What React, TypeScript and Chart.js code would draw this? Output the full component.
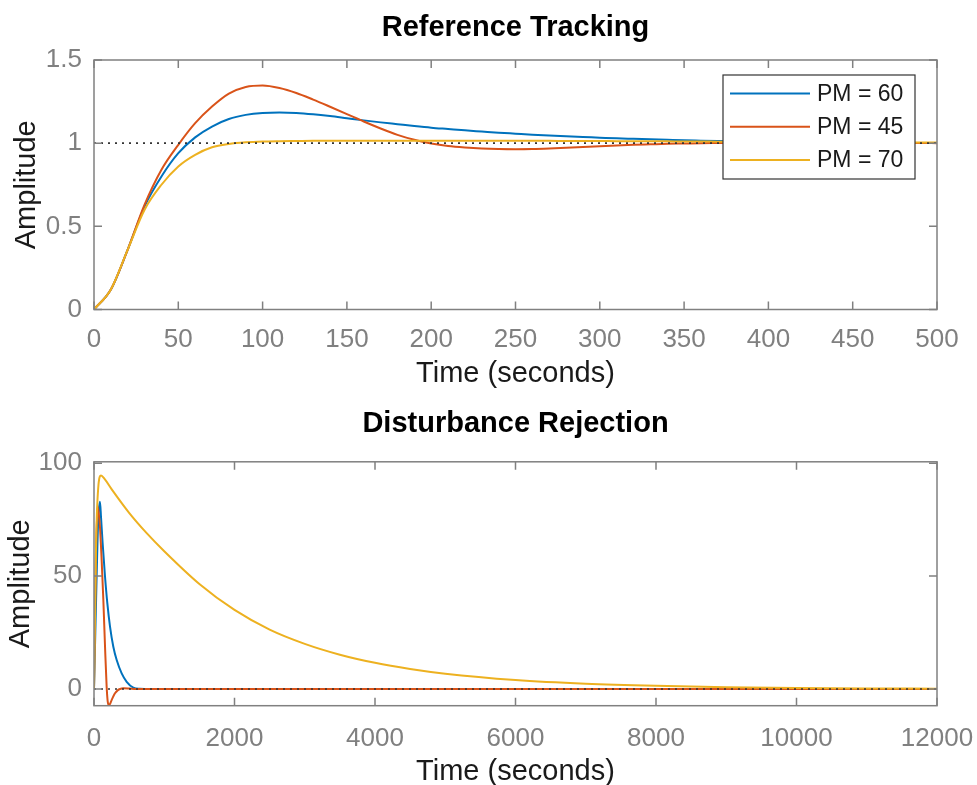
import React, { useEffect, useRef } from "react";
import { Chart, registerables } from "chart.js";

Chart.register(...registerables);

// ---------- Data: Reference Tracking ----------
const refTime = [
  0, 10, 20, 30, 40, 50, 60, 70, 80, 90, 100, 110, 120, 130, 140, 150, 160, 170, 180, 190,
  200, 210, 220, 230, 240, 250, 260, 270, 280, 290, 300, 310, 320, 330, 340, 350, 360, 370,
  380, 390, 400, 410, 420, 430, 440, 450, 460, 470, 480, 490, 500,
];
const refPM60 = [
  0, 0.12, 0.36, 0.62, 0.8, 0.94, 1.035, 1.1, 1.145, 1.17, 1.182, 1.185, 1.182, 1.174, 1.163,
  1.15, 1.137, 1.125, 1.114, 1.103, 1.093, 1.085, 1.077, 1.07, 1.063, 1.057, 1.051, 1.046,
  1.041, 1.037, 1.033, 1.029, 1.026, 1.023, 1.02, 1.017, 1.015, 1.013, 1.011, 1.009, 1.008,
  1.007, 1.006, 1.005, 1.004, 1.003, 1.003, 1.002, 1.002, 1.001, 1.001,
];
const refPM45 = [
  0, 0.12, 0.36, 0.63, 0.84, 0.99, 1.12, 1.22, 1.298, 1.338, 1.347, 1.332, 1.302, 1.262, 1.219,
  1.175, 1.13, 1.088, 1.05, 1.02, 0.998, 0.983, 0.974, 0.968, 0.965, 0.964, 0.965, 0.968,
  0.972, 0.977, 0.982, 0.986, 0.99, 0.993, 0.996, 0.998, 1.0, 1.001, 1.002, 1.003, 1.003,
  1.003, 1.003, 1.003, 1.002, 1.002, 1.002, 1.001, 1.001, 1.001, 1.0,
];
const refPM70 = [
  0, 0.12, 0.36, 0.6, 0.75, 0.86, 0.93, 0.975, 0.995, 1.005, 1.01, 1.012, 1.013, 1.014, 1.014,
  1.014, 1.014, 1.014, 1.014, 1.014, 1.014, 1.014, 1.014, 1.014, 1.014, 1.014, 1.014, 1.014,
  1.013, 1.013, 1.013, 1.012, 1.012, 1.011, 1.011, 1.01, 1.01, 1.009, 1.009, 1.008, 1.008,
  1.007, 1.007, 1.006, 1.006, 1.006, 1.005, 1.005, 1.005, 1.004, 1.004,
];
const refLineTime = [0, 500];
const refLineValue = [1, 1];

// ---------- Data: Disturbance Rejection ----------
const distTimePM60 = [0, 30, 60, 85, 100, 123, 157, 190, 228, 275, 323, 394, 465, 560, 655, 800, 1000, 12000];
const distPM60 = [0, 40, 75, 82.9, 76, 64.5, 49.7, 37.9, 27.6, 18.7, 12.8, 6.9, 3.2, 0.6, 0.1, 0, 0, 0];
const distTimePM45 = [0, 25, 50, 70, 85, 109, 133, 157, 180, 195, 210, 230, 251, 299, 340, 370, 418, 500, 600, 12000];
const distPM45 = [0, 55, 81, 77, 71.8, 57, 39.4, 18.7, 1.0, -5.5, -7.3, -6.5, -4.9, -1.9, -0.5, 0, 0.3, 0.2, 0, 0];
const distTimePM70 = [
  0, 30, 60, 100, 150, 250, 500, 750, 1000, 1500, 2000, 2500, 3000, 3500, 4000, 4500, 5000,
  6000, 7000, 8000, 9000, 10000, 11000, 12000,
];
const distPM70 = [
  0, 65, 89, 94.5, 93, 88.5, 78, 69, 61, 46.5, 35, 26.3, 20, 15.2, 11.6, 8.9, 6.8, 4.0, 2.35,
  1.4, 0.8, 0.45, 0.25, 0.14,
];
const distLineTime = [0, 12000];
const distLineValue = [0, 0];

// ---------- Ticks / labels ----------
const refXTicks = [0, 50, 100, 150, 200, 250, 300, 350, 400, 450, 500];
const refYTicks = [0, 0.5, 1, 1.5];
const distXTicks = [0, 2000, 4000, 6000, 8000, 10000, 12000];
const distYTicks = [0, 50, 100];
const seriesLabels = ["PM = 60", "PM = 45", "PM = 70"];
const seriesColors = ["#0072BD", "#D95319", "#EDB120"];

const FONT = "'Liberation Sans', Arial, Helvetica, sans-serif";
const AXIS_COLOR = "#808080";
const TICK_LEN = 8;

const toXY = (xs: number[], ys: number[]) => xs.map((x, i) => ({ x, y: ys[i] }));

const boxPlugin = {
  id: "matlabBox",
  afterDatasetsDraw(chart: any) {
    const { ctx, chartArea } = chart;
    const { left, right, top, bottom } = chartArea;
    const xs = chart.scales.x;
    const ys = chart.scales.y;
    ctx.save();
    ctx.strokeStyle = AXIS_COLOR;
    ctx.lineWidth = 1.5;
    ctx.strokeRect(left, top, right - left, bottom - top);
    ctx.beginPath();
    xs.ticks.forEach((t: any) => {
      const px = xs.getPixelForValue(t.value);
      ctx.moveTo(px, bottom);
      ctx.lineTo(px, bottom - TICK_LEN);
      ctx.moveTo(px, top);
      ctx.lineTo(px, top + TICK_LEN);
    });
    ys.ticks.forEach((t: any) => {
      const py = ys.getPixelForValue(t.value);
      ctx.moveTo(left, py);
      ctx.lineTo(left + TICK_LEN, py);
      ctx.moveTo(right, py);
      ctx.lineTo(right - TICK_LEN, py);
    });
    ctx.stroke();
    ctx.restore();
  },
};

const legendPlugin = {
  id: "matlabLegend",
  afterDraw(chart: any) {
    const { ctx } = chart;
    const bx = 723, by = 75, bw = 192, bh = 104;
    ctx.save();
    ctx.fillStyle = "#ffffff";
    ctx.fillRect(bx, by, bw, bh);
    ctx.strokeStyle = "#333333";
    ctx.lineWidth = 1.2;
    ctx.strokeRect(bx, by, bw, bh);
    ctx.font = `23px ${FONT}`;
    ctx.textBaseline = "middle";
    ctx.textAlign = "left";
    seriesLabels.forEach((label, i) => {
      const ds = chart.data.datasets.find((d: any) => d.label === label);
      const cy = by + 18.5 + i * 33.3;
      ctx.strokeStyle = ds ? ds.borderColor : "#000";
      ctx.lineWidth = 2;
      ctx.beginPath();
      ctx.moveTo(bx + 7, cy);
      ctx.lineTo(bx + 87, cy);
      ctx.stroke();
      ctx.fillStyle = "#1a1a1a";
      ctx.fillText(label, bx + 94, cy + 1);
    });
    ctx.restore();
  },
};

function lineDs(label: string, data: any[], color: string, order: number) {
  return {
    label,
    data,
    borderColor: color,
    backgroundColor: color,
    borderWidth: 2,
    pointRadius: 0,
    fill: false,
    cubicInterpolationMode: "monotone" as const,
    order,
  };
}

function dotDs(data: any[]) {
  return {
    label: "",
    data,
    borderColor: "#333333",
    borderWidth: 1.6,
    borderDash: [2, 5],
    pointRadius: 0,
    fill: false,
    order: 0,
  };
}

function makeOptions(cfg: {
  title: string;
  canvasH: number;
  plotBottom: number;
  titlePad: { top: number; bottom: number };
  xMin: number;
  xMax: number;
  yMin: number;
  yMax: number;
  xTicks: number[];
  yTicks: number[];
  xTickPad: number;
  xTitlePadBottom: number;
  yTitlePadTop: number;
}) {
  return {
    animation: false as const,
    responsive: false,
    maintainAspectRatio: false,
    events: [],
    layout: { padding: { left: 0, right: 40, top: 0, bottom: 0 } },
    plugins: {
      legend: { display: false },
      tooltip: { enabled: false },
      title: {
        display: true,
        fullSize: false,
        text: cfg.title,
        color: "#000000",
        font: { family: FONT, size: 29, weight: "bold" as const, lineHeight: 1.2 },
        padding: cfg.titlePad,
      },
    },
    scales: {
      x: {
        type: "linear" as const,
        min: cfg.xMin,
        max: cfg.xMax,
        grid: { display: false, drawTicks: false },
        border: { display: false },
        afterBuildTicks: (s: any) => {
          s.ticks = cfg.xTicks.map((v) => ({ value: v }));
        },
        afterFit: (s: any) => {
          s.height = cfg.canvasH - cfg.plotBottom;
          s.paddingLeft = 0;
          s.paddingRight = 0;
        },
        ticks: {
          autoSkip: false,
          maxRotation: 0,
          padding: cfg.xTickPad,
          color: AXIS_COLOR,
          font: { family: FONT, size: 26 },
          callback: (v: any) => String(v),
        },
        title: {
          display: true,
          text: "Time (seconds)",
          color: "#1a1a1a",
          font: { family: FONT, size: 29, lineHeight: 1 },
          padding: { top: 0, bottom: cfg.xTitlePadBottom },
        },
      },
      y: {
        type: "linear" as const,
        min: cfg.yMin,
        max: cfg.yMax,
        grid: { display: false, drawTicks: false },
        border: { display: false },
        afterBuildTicks: (s: any) => {
          s.ticks = cfg.yTicks.map((v) => ({ value: v }));
        },
        afterFit: (s: any) => {
          s.width = 94;
          s.paddingTop = 0;
          s.paddingBottom = 0;
        },
        ticks: {
          autoSkip: false,
          padding: 12,
          color: AXIS_COLOR,
          font: { family: FONT, size: 26 },
          callback: (v: any) => String(v),
        },
        title: {
          display: true,
          text: "Amplitude",
          color: "#1a1a1a",
          font: { family: FONT, size: 29, lineHeight: 1 },
          padding: { top: cfg.yTitlePadTop, bottom: 0 },
        },
      },
    },
  };
}

export default function App() {
  const topRef = useRef<HTMLCanvasElement | null>(null);
  const botRef = useRef<HTMLCanvasElement | null>(null);

  useEffect(() => {
    if (!topRef.current || !botRef.current) return;
    const topChart = new Chart(topRef.current, {
      type: "line",
      data: {
        datasets: [
          dotDs(toXY(refLineTime, refLineValue)),
          lineDs(seriesLabels[2], toXY(refTime, refPM70), seriesColors[2], 1),
          lineDs(seriesLabels[1], toXY(refTime, refPM45), seriesColors[1], 2),
          lineDs(seriesLabels[0], toXY(refTime, refPM60), seriesColors[0], 3),
        ],
      },
      options: makeOptions({
        title: "Reference Tracking",
        canvasH: 392,
        plotBottom: 309.5,
        titlePad: { top: 11, bottom: 14.2 },
        xMin: 0,
        xMax: 500,
        yMin: 0,
        yMax: 1.5,
        xTicks: refXTicks,
        yTicks: refYTicks,
        xTickPad: 15,
        xTitlePadBottom: 3.5,
        yTitlePadTop: 12,
      }) as any,
      plugins: [boxPlugin, legendPlugin],
    });
    const botChart = new Chart(botRef.current, {
      type: "line",
      data: {
        datasets: [
          dotDs(toXY(distLineTime, distLineValue)),
          lineDs(seriesLabels[2], toXY(distTimePM70, distPM70), seriesColors[2], 1),
          lineDs(seriesLabels[1], toXY(distTimePM45, distPM45), seriesColors[1], 2),
          lineDs(seriesLabels[0], toXY(distTimePM60, distPM60), seriesColors[0], 3),
        ],
      },
      options: makeOptions({
        title: "Disturbance Rejection",
        canvasH: 393,
        plotBottom: 313.7,
        titlePad: { top: 15, bottom: 20 },
        xMin: 0,
        xMax: 12000,
        yMin: -7.4,
        yMax: 100.6,
        xTicks: distXTicks,
        yTicks: distYTicks,
        xTickPad: 18,
        xTitlePadBottom: -1.5,
        yTitlePadTop: 6,
      }) as any,
      plugins: [boxPlugin],
    });
    return () => {
      topChart.destroy();
      botChart.destroy();
    };
  }, []);

  return (
    <div style={{ position: "absolute", left: 0, top: 0, width: 977, height: 785, background: "#ffffff", overflow: "hidden" }}>
      <canvas ref={topRef} width={977} height={392} style={{ position: "absolute", left: 0, top: 0, display: "block" }} />
      <canvas ref={botRef} width={977} height={393} style={{ position: "absolute", left: 0, top: 392, display: "block" }} />
    </div>
  );
}
